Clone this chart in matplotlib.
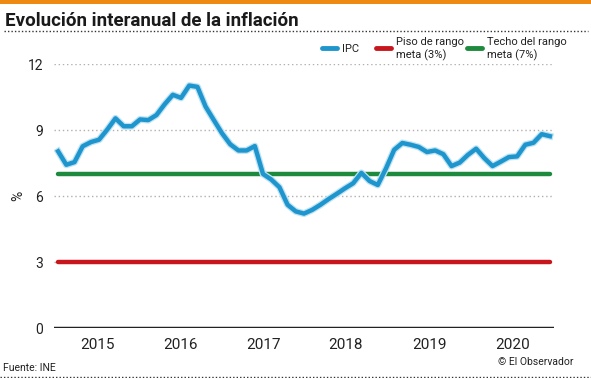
import matplotlib
matplotlib.use('Agg')
import matplotlib.pyplot as plt
from matplotlib.lines import Line2D
from matplotlib.patches import Rectangle

plt.rcParams['font.family'] = ['Roboto', 'DejaVu Sans']

# IPC interanual, mensual ene-2015 .. ene-2020
ipc = [8.03, 7.42, 7.54, 8.26, 8.45, 8.56, 9.02, 9.53, 9.17, 9.17, 9.48, 9.45,
       9.68, 10.17, 10.60, 10.46, 11.02, 10.96, 10.06, 9.45, 8.85, 8.35, 8.07, 8.07,
       8.27, 7.00, 6.75, 6.40, 5.60, 5.30, 5.20, 5.37, 5.60, 5.86, 6.10, 6.35,
       6.58, 7.05, 6.68, 6.50, 7.25, 8.10, 8.41, 8.33, 8.23, 8.00, 8.07, 7.90,
       7.36, 7.52, 7.87, 8.15, 7.72, 7.36, 7.56, 7.77, 7.80, 8.33, 8.42, 8.81,
       8.72]
piso = 3
techo = 7
years = ['2015', '2016', '2017', '2018', '2019', '2020']
year_pos = [4.75, 14.9, 25.0, 35.1, 45.3, 55.4]
yticks = [0, 3, 6, 9, 12]

x = list(range(len(ipc)))

fig = plt.figure(figsize=(5.91, 3.78), dpi=100)
ax = fig.add_axes([54 / 591, 50 / 378, 500 / 591, 264 / 378])

for v in yticks[1:]:
    ax.axhline(v, color='#b0b0b0', lw=1, ls=(0, (1, 2)), zorder=1)
ax.axhline(0, color='#222222', lw=2.5, zorder=2)

ax.plot([x[0], x[-1]], [piso, piso], color='#c8161d', lw=3.2,
        solid_capstyle='round', zorder=3)
ax.plot([x[0], x[-1]], [techo, techo], color='#1d8a3d', lw=3.2,
        solid_capstyle='round', zorder=3)
ax.plot(x, ipc, color='#bfe3f3', lw=5, solid_joinstyle='round', zorder=4)
ax.plot(x, ipc, color='#1e96cd', lw=3.2, solid_joinstyle='round', zorder=5)

ax.set_xlim(-0.5, 60.5)
ax.set_ylim(0, 12)
ax.set_yticks(yticks)
ax.set_yticklabels([str(v) for v in yticks], fontsize=10, color='#222222')
ax.set_xticks(year_pos)
ax.set_xticklabels(years, fontsize=11, color='#222222')
ax.tick_params(axis='both', length=0)
ax.tick_params(axis='y', pad=8)
ax.tick_params(axis='x', pad=7)
for s in ax.spines.values():
    s.set_visible(False)
fig.text(18 / 591, 1 - 196 / 378, '%', fontsize=10, rotation=90, ha='center',
         va='center', color='#222222')

# cabecera
fig.add_artist(Rectangle((0, 1 - 4 / 378), 1, 4 / 378, transform=fig.transFigure,
                         color='#ee8a14', lw=0))
fig.text(5 / 591, 1 - 26 / 378, 'Evolución interanual de la inflación',
         fontsize=13.5, fontweight='bold', color='#1a1a1a')
fig.add_artist(Line2D([4 / 591, 588 / 591], [1 - 31 / 378] * 2, color='#333333',
                      lw=1, ls=(0, (1, 1.5)), transform=fig.transFigure))
fig.add_artist(Line2D([0, 1], [1 - 377 / 378] * 2, color='#333333',
                      lw=1, ls=(0, (1, 1.5)), transform=fig.transFigure))

# leyenda
legend_items = [('IPC', '#1e96cd', 322), ('Piso de rango\nmeta (3%)', '#c8161d', 376),
                ('Techo del rango\nmeta (7%)', '#1d8a3d', 467)]
for label, color, px in legend_items:
    fig.add_artist(Line2D([px / 591, (px + 15) / 591], [1 - 48 / 378] * 2, color=color,
                          lw=3.5, solid_capstyle='round', transform=fig.transFigure))
    fig.text((px + 20) / 591, 1 - 49 / 378, label, fontsize=8, va='center',
             linespacing=1.3, color='#222222')

fig.text(3 / 591, 1 - 368 / 378, 'Fuente: INE', fontsize=7.5, va='center', color='#222222')
fig.text(574 / 591, 1 - 362 / 378, '© El Observador', fontsize=7.5, va='center',
         ha='right', color='#222222')

fig.savefig('out.png', dpi=100)
